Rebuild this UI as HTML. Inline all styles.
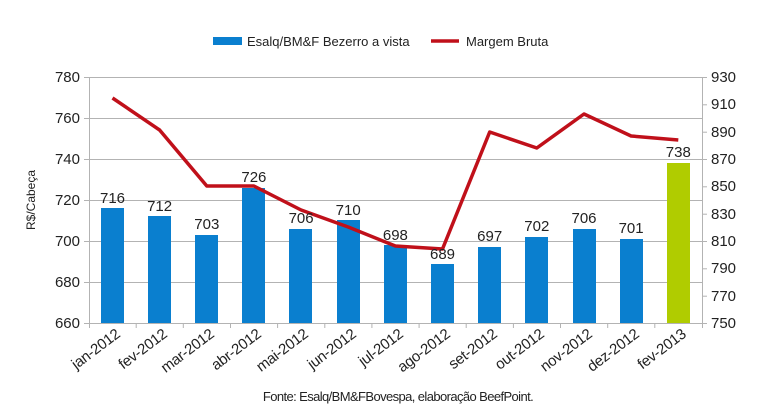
<!DOCTYPE html>
<html><head><style>body{margin:0;background:#fff}svg{display:block}text{font-family:"Liberation Sans",sans-serif;fill:#222}</style></head><body>
<svg width="768" height="407" viewBox="0 0 768 407">
<g stroke="#b3b3b3" stroke-width="1">
<line x1="89" y1="77.5" x2="702" y2="77.5"/><line x1="89" y1="118.5" x2="702" y2="118.5"/><line x1="89" y1="159.5" x2="702" y2="159.5"/><line x1="89" y1="200.5" x2="702" y2="200.5"/><line x1="89" y1="241.5" x2="702" y2="241.5"/><line x1="89" y1="282.5" x2="702" y2="282.5"/><line x1="89" y1="323.5" x2="702" y2="323.5"/>
<line x1="89.5" y1="77" x2="89.5" y2="328"/><line x1="702.5" y1="77" x2="702.5" y2="328"/>
<line x1="84" y1="77.5" x2="89" y2="77.5"/><line x1="84" y1="118.5" x2="89" y2="118.5"/><line x1="84" y1="159.5" x2="89" y2="159.5"/><line x1="84" y1="200.5" x2="89" y2="200.5"/><line x1="84" y1="241.5" x2="89" y2="241.5"/><line x1="84" y1="282.5" x2="89" y2="282.5"/><line x1="84" y1="323.5" x2="89" y2="323.5"/>
<line x1="702" y1="77.5" x2="707" y2="77.5"/><line x1="702" y1="104.8" x2="707" y2="104.8"/><line x1="702" y1="132.2" x2="707" y2="132.2"/><line x1="702" y1="159.5" x2="707" y2="159.5"/><line x1="702" y1="186.8" x2="707" y2="186.8"/><line x1="702" y1="214.2" x2="707" y2="214.2"/><line x1="702" y1="241.5" x2="707" y2="241.5"/><line x1="702" y1="268.8" x2="707" y2="268.8"/><line x1="702" y1="296.2" x2="707" y2="296.2"/><line x1="702" y1="323.5" x2="707" y2="323.5"/>
<line x1="136.2" y1="323" x2="136.2" y2="328"/><line x1="183.3" y1="323" x2="183.3" y2="328"/><line x1="230.5" y1="323" x2="230.5" y2="328"/><line x1="277.6" y1="323" x2="277.6" y2="328"/><line x1="324.8" y1="323" x2="324.8" y2="328"/><line x1="371.9" y1="323" x2="371.9" y2="328"/><line x1="419.1" y1="323" x2="419.1" y2="328"/><line x1="466.2" y1="323" x2="466.2" y2="328"/><line x1="513.4" y1="323" x2="513.4" y2="328"/><line x1="560.5" y1="323" x2="560.5" y2="328"/><line x1="607.7" y1="323" x2="607.7" y2="328"/><line x1="654.8" y1="323" x2="654.8" y2="328"/>
</g>
<g fill="#0a7fcf">
<rect x="101" y="208" width="23" height="115"/><rect x="148" y="216" width="23" height="107"/><rect x="195" y="235" width="23" height="88"/><rect x="242" y="188" width="23" height="135"/><rect x="289" y="229" width="23" height="94"/><rect x="337" y="220" width="23" height="103"/><rect x="384" y="245" width="23" height="78"/><rect x="431" y="264" width="23" height="59"/><rect x="478" y="247" width="23" height="76"/><rect x="525" y="237" width="23" height="86"/><rect x="573" y="229" width="23" height="94"/><rect x="620" y="239" width="23" height="84"/>
</g>
<rect x="667" y="163" width="23" height="160" fill="#b0cc00"/>
<polyline fill="none" stroke="#c0101a" stroke-width="3.5" stroke-linejoin="round" points="112.5,98 159.6,130 206.8,186 253.9,186 301.1,210 348.2,227 395.4,246 442.5,249 489.7,132 536.8,148 584,114 631.1,136 678.3,140"/>
<g font-size="15" text-anchor="middle">
<text x="112.5" y="203">716</text><text x="159.6" y="211">712</text><text x="206.8" y="229">703</text><text x="253.9" y="182">726</text><text x="301.1" y="223">706</text><text x="348.2" y="215">710</text><text x="395.4" y="240">698</text><text x="442.5" y="259">689</text><text x="489.7" y="241">697</text><text x="536.8" y="231">702</text><text x="584" y="223">706</text><text x="631.1" y="233">701</text><text x="678.3" y="157">738</text>
</g>
<g font-size="15" text-anchor="end">
<text x="80" y="82">780</text><text x="80" y="123">760</text><text x="80" y="164">740</text><text x="80" y="205">720</text><text x="80" y="246">700</text><text x="80" y="287">680</text><text x="80" y="328">660</text>
</g>
<g font-size="15">
<text x="711" y="82">930</text><text x="711" y="109">910</text><text x="711" y="137">890</text><text x="711" y="164">870</text><text x="711" y="191">850</text><text x="711" y="219">830</text><text x="711" y="246">810</text><text x="711" y="273">790</text><text x="711" y="301">770</text><text x="711" y="328">750</text>
</g>
<g font-size="15" text-anchor="end" letter-spacing="-0.3">
<text transform="translate(121,336) rotate(-37)">jan-2012</text><text transform="translate(168,336) rotate(-37)">fev-2012</text><text transform="translate(215,336) rotate(-37)">mar-2012</text><text transform="translate(262,336) rotate(-37)">abr-2012</text><text transform="translate(309,336) rotate(-37)">mai-2012</text><text transform="translate(357,336) rotate(-37)">jun-2012</text><text transform="translate(404,336) rotate(-37)">jul-2012</text><text transform="translate(451,336) rotate(-37)">ago-2012</text><text transform="translate(498,336) rotate(-37)">set-2012</text><text transform="translate(545,336) rotate(-37)">out-2012</text><text transform="translate(593,336) rotate(-37)">nov-2012</text><text transform="translate(640,336) rotate(-37)">dez-2012</text><text transform="translate(687,336) rotate(-37)">fev-2013</text>
</g>
<text transform="translate(35,200) rotate(-90)" font-size="12" text-anchor="middle">R$/Cabeça</text>
<rect x="213" y="37" width="29" height="8" fill="#0a7fcf"/>
<text x="247" y="46" font-size="13">Esalq/BM&amp;F Bezerro a vista</text>
<line x1="431" y1="41" x2="459" y2="41" stroke="#c0101a" stroke-width="3.5"/>
<text x="466" y="46" font-size="13">Margem Bruta</text>
<text x="398" y="401" font-size="13" text-anchor="middle" letter-spacing="-0.6">Fonte: Esalq/BM&amp;FBovespa, elaboração BeefPoint.</text>
</svg>
</body></html>
